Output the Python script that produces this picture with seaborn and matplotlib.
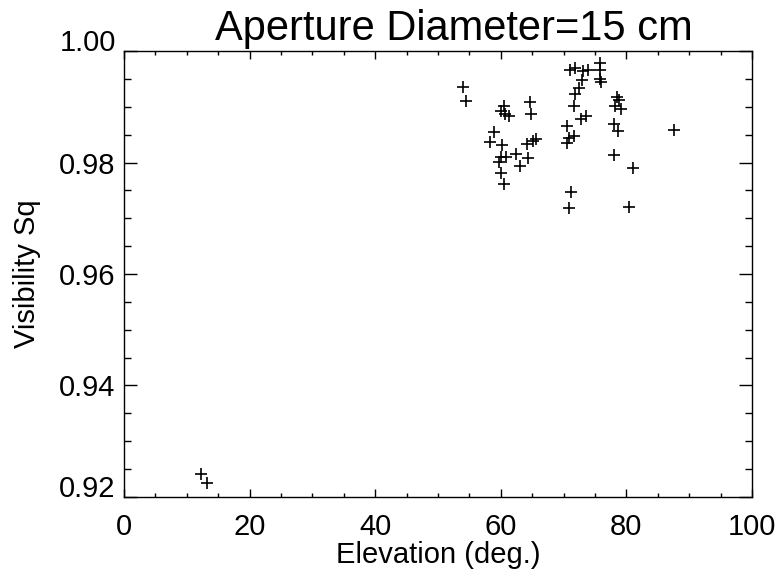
import matplotlib
matplotlib.use("Agg")
import matplotlib.pyplot as plt
from matplotlib.ticker import MultipleLocator, FormatStrFormatter
import seaborn as sns
import pandas as pd

elevation = [
    12.2, 13.2,
    54.0, 54.5,
    60.5, 60.1, 60.7, 61.3, 64.7, 64.8,
    59.0, 58.3, 60.2, 60.0, 60.8, 59.7, 60.1, 60.5,
    62.4, 63.0, 64.2, 64.4, 65.2, 65.6,
    70.5, 70.9, 71.7, 70.5, 71.2, 70.8,
    71.0, 71.9, 73.1, 73.9, 72.9, 72.5, 71.8, 71.6, 72.8, 73.5,
    75.8, 75.8, 75.8, 75.9,
    78.5, 78.9, 78.2, 79.1, 78.0, 78.6, 87.6, 78.0, 81.0, 80.4,
]
vis_sq = [
    0.9241, 0.9224,
    0.9935, 0.9911,
    0.9902, 0.9893, 0.9887, 0.9883, 0.9908, 0.9887,
    0.9855, 0.9837, 0.9831, 0.9810, 0.9810, 0.9801, 0.9781, 0.9761,
    0.9815, 0.9793, 0.9833, 0.9809, 0.9839, 0.9842,
    0.9866, 0.9845, 0.9847, 0.9835, 0.9748, 0.9719,
    0.9966, 0.9969, 0.9964, 0.9966, 0.9948, 0.9933, 0.9923, 0.9902, 0.9878, 0.9884,
    0.9978, 0.9966, 0.9950, 0.9945,
    0.9918, 0.9913, 0.9901, 0.9896, 0.9869, 0.9857, 0.9858, 0.9814, 0.9791, 0.9720,
]

df = pd.DataFrame({"Elevation": elevation, "VisSq": vis_sq})

sns.set_theme(style="ticks")
plt.rcParams["font.family"] = ["Liberation Sans", "DejaVu Sans"]
plt.rcParams["text.color"] = "black"
plt.rcParams["axes.labelcolor"] = "black"

fig = plt.figure(figsize=(7.8, 5.75), dpi=100)
ax = fig.add_axes([0.159, 0.136, 0.805, 0.775])

sns.scatterplot(data=df, x="Elevation", y="VisSq", marker="+", s=75,
                color="black", linewidth=1.2, ax=ax, legend=False)

ax.set_xlim(0, 100)
ax.set_ylim(0.92, 1.00)
ax.xaxis.set_major_locator(MultipleLocator(20))
ax.xaxis.set_minor_locator(MultipleLocator(5))
ax.yaxis.set_major_locator(MultipleLocator(0.02))
ax.yaxis.set_minor_locator(MultipleLocator(0.005))
ax.yaxis.set_major_formatter(FormatStrFormatter("%.2f"))

ax.tick_params(which="both", direction="in", top=True, right=True,
               colors="black", labelcolor="black", labelsize=21, width=1)
ax.tick_params(axis="x", which="major", length=5.8, pad=12)
ax.tick_params(axis="x", which="minor", length=2.9)
ax.tick_params(axis="y", which="major", length=9.4, pad=6)
ax.tick_params(axis="y", which="minor", length=4.7)
for sp in ax.spines.values():
    sp.set_color("black")
    sp.set_linewidth(1)

ax.set_xlabel("Elevation (deg.)", fontsize=21, labelpad=0)
ax.set_ylabel("Visibility Sq", fontsize=21, labelpad=13)
ax.set_title("Aperture Diameter=15 cm", fontsize=30, pad=8, x=0.525)

# end labels of the y axis sit on their ticks, as in the original
fig.canvas.draw()
for tick in ax.yaxis.get_major_ticks():
    loc = tick.get_loc()
    if abs(loc - 0.92) < 1e-6 or abs(loc - 1.00) < 1e-6:
        tick.label1.set_verticalalignment("baseline")

fig.savefig("out.png", dpi=100, facecolor="white")
